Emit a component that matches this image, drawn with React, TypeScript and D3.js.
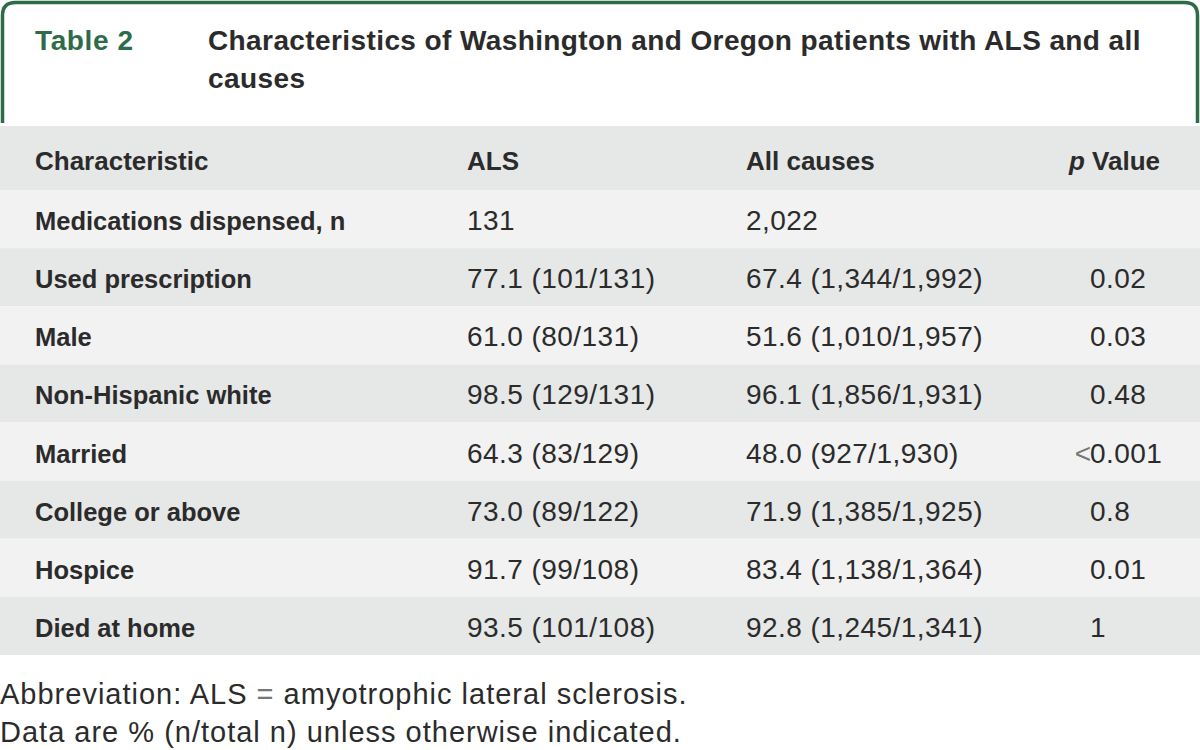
import React from "react";
import * as d3 from "d3";

const characteristics = [
  "Medications dispensed, n",
  "Used prescription",
  "Male",
  "Non-Hispanic white",
  "Married",
  "College or above",
  "Hospice",
  "Died at home",
];
const alsValues = [
  "131",
  "77.1 (101/131)",
  "61.0 (80/131)",
  "98.5 (129/131)",
  "64.3 (83/129)",
  "73.0 (89/122)",
  "91.7 (99/108)",
  "93.5 (101/108)",
];
const allCausesValues = [
  "2,022",
  "67.4 (1,344/1,992)",
  "51.6 (1,010/1,957)",
  "96.1 (1,856/1,931)",
  "48.0 (927/1,930)",
  "71.9 (1,385/1,925)",
  "83.4 (1,138/1,364)",
  "92.8 (1,245/1,341)",
];
const pValues = ["", "0.02", "0.03", "0.48", "<0.001", "0.8", "0.01", "1"];
const headers = ["Characteristic", "ALS", "All causes", "p Value"];
const titleLabel = "Table 2";
const titleLines = [
  "Characteristics of Washington and Oregon patients with ALS and all",
  "causes",
];
const footnotes = [
  ["Abbreviation: ALS ", "=", " amyotrophic lateral sclerosis."],
  ["Data are % (n/total n) unless otherwise indicated.", "", ""],
];

const W = 1200;
const H = 750;
const FONT = "'Liberation Sans', Arial, sans-serif";
const GREEN = "#2e6b49";
const TEXT = "#2b2b2b";
const SYMBOL = "#777";
const DARK_ROW = "#e6e7e7";
const LIGHT_ROW = "#f2f2f2";

export default function App() {
  const rowScale = d3
    .scaleBand<number>()
    .domain(d3.range(characteristics.length))
    .range([190, 655])
    .paddingInner(0)
    .paddingOuter(0);
  const colX = d3
    .scaleOrdinal<string, number>()
    .domain(["label", "als", "all", "p", "pHead"])
    .range([35, 467, 746, 1090, 1069]);

  const r = 13;
  const bx0 = 2.5;
  const bx1 = 1197.5;
  const by0 = 2.5;
  const by1 = 123;
  const borderPath = `M${bx0},${by1} L${bx0},${by0 + r} Q${bx0},${by0} ${bx0 + r},${by0} L${bx1 - r},${by0} Q${bx1},${by0} ${bx1},${by0 + r} L${bx1},${by1}`;

  const dataStyle = { fontSize: 28, letterSpacing: 0.45 };

  return (
    <svg
      width={W}
      height={H}
      style={{ position: "absolute", left: 0, top: 0, background: "#fff" }}
      fontFamily={FONT}
    >
      <rect x={0} y={0} width={W} height={H} fill="#fff" />
      <path d={borderPath} fill="none" stroke={GREEN} strokeWidth={3.5} />
      <text x={35} y={50} fontSize={28} letterSpacing={0.6} fontWeight="bold" fill={GREEN}>
        {titleLabel}
      </text>
      {titleLines.map((t, i) => (
        <text
          key={i}
          x={208}
          y={50 + i * 38}
          fontSize={28}
          letterSpacing={0.4}
          fontWeight="bold"
          fill={TEXT}
        >
          {t}
        </text>
      ))}

      <rect x={0} y={126} width={W} height={64} fill={DARK_ROW} />
      <g fontSize={26} fontWeight="bold" fill={TEXT}>
        <text x={colX("label")} y={170}>{headers[0]}</text>
        <text x={colX("als")} y={170}>{headers[1]}</text>
        <text x={colX("all")} y={170}>{headers[2]}</text>
        <text x={colX("pHead")} y={170}>
          <tspan fontStyle="italic">p</tspan> Value
        </text>
      </g>

      {characteristics.map((c, i) => {
        const y0 = rowScale(i)!;
        const bw = rowScale.bandwidth();
        const ty = y0 + bw / 2 + 11;
        const p = pValues[i];
        const lt = p.startsWith("<");
        return (
          <g key={c}>
            <rect
              x={0}
              y={y0}
              width={W}
              height={bw}
              fill={i % 2 === 0 ? LIGHT_ROW : DARK_ROW}
            />
            <text x={colX("label")} y={ty} fontSize={25.5} fontWeight="bold" fill={TEXT}>
              {c}
            </text>
            <text x={colX("als")} y={ty} {...dataStyle} fill={TEXT}>
              {alsValues[i]}
            </text>
            <text x={colX("all")} y={ty} {...dataStyle} fill={TEXT}>
              {allCausesValues[i]}
            </text>
            {lt && (
              <text x={colX("p") + 1} y={ty} fontSize={28} fill={SYMBOL} textAnchor="end">
                {"<"}
              </text>
            )}
            <text x={colX("p")} y={ty} {...dataStyle} fill={TEXT}>
              {lt ? p.slice(1) : p}
            </text>
          </g>
        );
      })}

      {footnotes.map((f, i) => (
        <text key={i} x={0} y={704 + i * 38} fontSize={29} letterSpacing={1} fill={TEXT}>
          {f[0]}
          {f[1] && <tspan fill={SYMBOL}>{f[1]}</tspan>}
          {f[2]}
        </text>
      ))}
    </svg>
  );
}
